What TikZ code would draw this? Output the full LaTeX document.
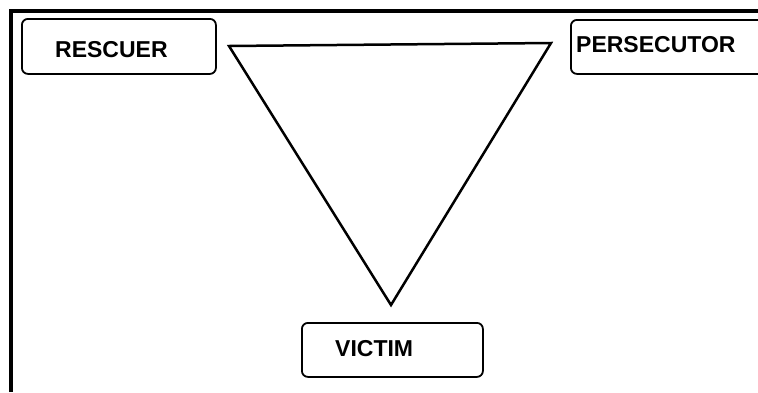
\documentclass[tikz,border=0pt]{standalone}
\usepackage{fontspec}
\setmainfont{Liberation Sans}
\usepackage{tikz}
\usetikzlibrary{positioning}

\begin{document}
\begin{tikzpicture}[x=1pt, y=-1pt,
		rolebox/.style={draw, line width=1.8pt, rounded corners=6pt, inner sep=0pt, anchor=north west},
		rolelabel/.style={font=\fontsize{23}{27}\selectfont\bfseries, inner sep=0pt, anchor=base west},
		edge/.style={line width=2.5pt, line join=miter},
		frame/.style={line width=4.5pt},
	]
		\useasboundingbox (0,0) rectangle (758,392);
		\clip (0,0) rectangle (758,392);

		% Rahmen (nur links und oben)
		\draw[frame] (11,392) -- (11,11) -- (758,11);

		% Rollen
		\node[rolebox, minimum width=194pt, minimum height=55pt] (rescuer) at (21,18) {};
		\node[rolelabel] (rescuerlbl) at (55,57) {RESCUER};

		\node[rolebox, minimum width=230pt, minimum height=54pt] (persecutor) at (570,19) {};
		\node[rolelabel] (persecutorlbl) at (576,52) {PERSECUTOR};

		\node[rolebox, minimum width=181pt, minimum height=54pt] (victim) at (301,322) {};
		\node[rolelabel] (victimlbl) at (335,356) {VICTIM};

		% Dreieck
		\coordinate (tl) at (229,46);
		\coordinate (tr) at (551,43);
		\coordinate (bt) at (391,305);
		\draw[edge] (tl) -- (tr) -- (bt) -- cycle;
	\end{tikzpicture}
\end{document}
